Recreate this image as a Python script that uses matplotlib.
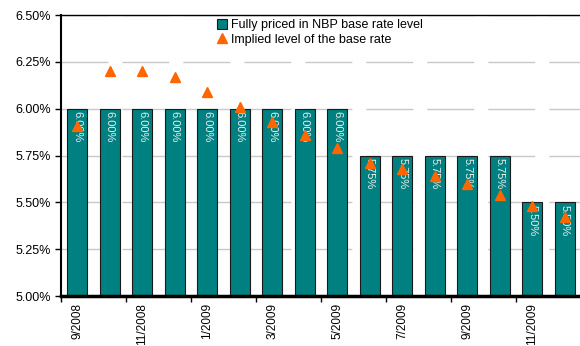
import numpy as np
import matplotlib
matplotlib.use("Agg")
import matplotlib.pyplot as plt
from matplotlib.ticker import FuncFormatter

plt.rcParams['font.family'] = ['Liberation Sans', 'DejaVu Sans']
plt.rcParams['lines.scale_dashes'] = False

months = ["9/2008", "10/2008", "11/2008", "12/2008", "1/2009", "2/2009", "3/2009", "4/2009",
          "5/2009", "6/2009", "7/2009", "8/2009", "9/2009", "10/2009", "11/2009", "12/2009"]
priced_rate = [6.00, 6.00, 6.00, 6.00, 6.00, 6.00, 6.00, 6.00, 6.00,
               5.75, 5.75, 5.75, 5.75, 5.75, 5.50, 5.50]
implied_rate = [5.91, 6.20, 6.20, 6.17, 6.09, 6.01, 5.93, 5.86, 5.79,
                5.71, 5.68, 5.64, 5.60, 5.54, 5.48, 5.42]

fig = plt.figure(figsize=(5.8, 3.46), dpi=100)
ax = fig.add_axes([61 / 580, 1 - 296 / 346, 520 / 580, 281 / 346])

x = np.arange(len(months))
bars = ax.bar(x, priced_rate, width=0.62, bottom=0, color="#008080", edgecolor="#1a1a1a",
              linewidth=0.8, zorder=2, label="Fully priced in NBP base rate level")
pts, = ax.plot(x, implied_rate, linestyle="none", marker="^", markersize=7, color="#ff6600",
               zorder=4, label="Implied level of the base rate")

# value labels inside the bars, reading downwards
for xi, v in zip(x, priced_rate):
    ax.text(xi, v - 0.012, f"{v:.2f}%", rotation=270, ha="center", va="top",
            fontsize=8, color="#f0f0f0", zorder=3)

ax.set_ylim(5.0, 6.5)
ax.set_xlim(-0.5, len(months) - 0.5)
ax.set_yticks(np.arange(5.0, 6.51, 0.25))
ax.yaxis.set_major_formatter(FuncFormatter(lambda v, p: f"{v:.2f}%"))
ax.tick_params(axis="y", labelsize=9, length=4, width=1, direction="out", pad=3)

# labels centred on every other bar, tick marks between categories
ax.set_xticks(x[::2])
ax.set_xticklabels(months[::2], rotation=90, fontsize=8.5)
ax.set_xticks(x[::2] - 0.5, minor=True)
ax.tick_params(axis="x", which="major", length=0, pad=5)
ax.tick_params(axis="x", which="minor", length=4, width=1, direction="out")

ax.yaxis.grid(True, color="#c8c8c8", linewidth=1, linestyle=(0, (33.8, 10.1)), zorder=0)
ax.set_axisbelow(True)

ax.spines["left"].set_linewidth(1.5)
ax.spines["bottom"].set_linewidth(2.5)
ax.spines["top"].set_linewidth(1)
ax.spines["right"].set_visible(False)

ax.legend(handles=[bars, pts], loc="upper left", bbox_to_anchor=(0.3, 0.985), frameon=False,
          fontsize=9, handlelength=0.8, handleheight=0.8, handletextpad=0.3, borderpad=0,
          labelspacing=0.2, borderaxespad=0)

fig.savefig("out.png", dpi=100)
